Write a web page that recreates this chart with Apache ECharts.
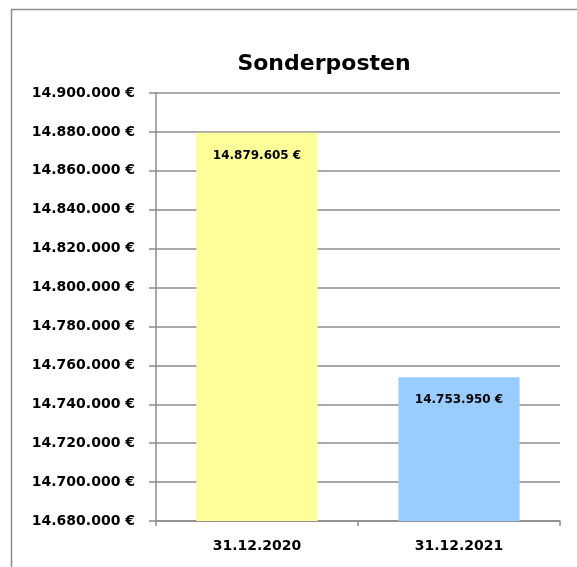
<!DOCTYPE html>
<html>
<head>
<meta charset="utf-8">
<script src="https://cdn.jsdelivr.net/npm/echarts@6/dist/echarts.min.js"></script>
<style>
    html, body { margin: 0; padding: 0; background: #fff; }
    #chart { width: 577px; height: 567px; }
</style>
</head>
<body>
<div id="chart"></div>
<script>
    const categories = ['31.12.2020', '31.12.2021'];
    const values = [14879605, 14753950];
    const barColors = ['#FFFF99', '#99CCFF'];
    const yMin = 14680000;
    const yMax = 14900000;
    const yStep = 20000;

    const fmt = v => v.toString().replace(/\B(?=(\d{3})+(?!\d))/g, '.') + ' €';
    const font = 'DejaVu Sans';
    const axisGray = '#8c8c8c';

    const myChart = echarts.init(document.getElementById('chart'), null, { renderer: 'canvas' });
    const chartOption = {
        animation: false,
        backgroundColor: '#fff',
        graphic: [{
            type: 'rect',
            shape: { x: 11.5, y: 9.5, width: 700, height: 700 },
            style: { fill: 'none', stroke: '#8c8c8c', lineWidth: 1.5 },
            silent: true
        }, {
            type: 'text',
            x: 324,
            y: 64,
            style: {
                text: 'Sonderposten',
                font: 'bold 22px "DejaVu Sans"',
                fill: '#000',
                align: 'center',
                verticalAlign: 'middle'
            }
        }],
        grid: {
            left: 156,
            right: 17,
            top: 93,
            bottom: 46,
            containLabel: false
        },
        xAxis: {
            type: 'category',
            data: categories,
            axisLine: { lineStyle: { color: axisGray, width: 1.5 } },
            axisTick: { show: true, length: 5, lineStyle: { color: axisGray, width: 1.5 } },
            axisLabel: {
                margin: 18,
                color: '#000',
                fontFamily: font,
                fontWeight: 'bold',
                fontSize: 14
            }
        },
        yAxis: {
            type: 'value',
            min: yMin,
            max: yMax,
            interval: yStep,
            axisLine: { show: true, lineStyle: { color: axisGray, width: 1.5 } },
            axisTick: { show: true, length: 7, lineStyle: { color: axisGray, width: 1.5 } },
            splitLine: { lineStyle: { color: axisGray, width: 1.5 } },
            axisLabel: {
                margin: 21,
                color: '#000',
                fontFamily: font,
                fontWeight: 'bold',
                fontSize: 14,
                formatter: fmt
            }
        },
        series: [{
            type: 'bar',
            barCategoryGap: '40%',
            data: values.map((v, i) => ({ value: v, itemStyle: { color: barColors[i] } })),
            label: {
                show: true,
                position: 'insideTop',
                distance: 17,
                color: '#000',
                fontFamily: font,
                fontWeight: 'bold',
                fontSize: 12,
                formatter: p => fmt(p.value)
            }
        }]
    };
    myChart.setOption(chartOption);
</script>
</body>
</html>
